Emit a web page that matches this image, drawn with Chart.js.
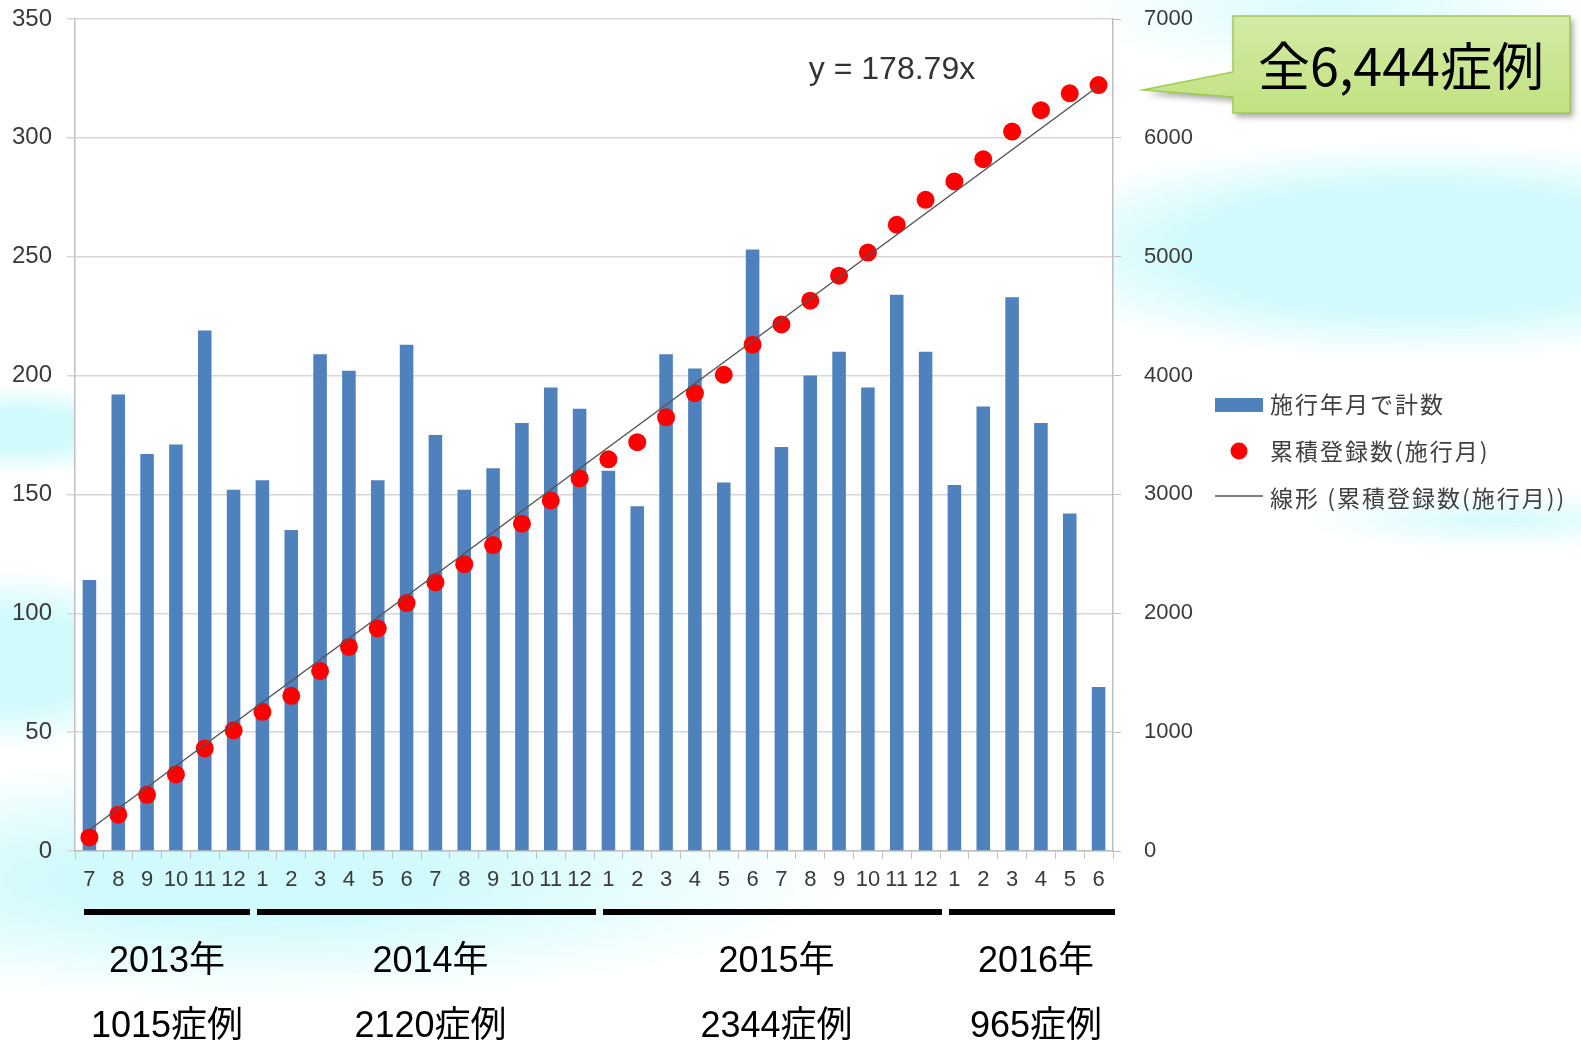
<!DOCTYPE html>
<html>
<head>
<meta charset="utf-8">
<script src="https://cdn.jsdelivr.net/npm/chart.js@4.4.1/dist/chart.umd.min.js"></script>
<style>
  html, body { margin: 0; padding: 0; }
  body {
    width: 1581px; height: 1043px; overflow: hidden;
    background:
      radial-gradient(ellipse 260px 70px at 1330px 8px, rgba(212,250,252,0.9), rgba(212,250,252,0) 100%),
      radial-gradient(ellipse 420px 110px at 1420px 250px, rgba(208,250,252,1) 55%, rgba(208,250,252,0) 100%),
      radial-gradient(ellipse 200px 30px at 1500px 520px, rgba(208,250,252,0.9), rgba(208,250,252,0) 100%),
      radial-gradient(ellipse 140px 45px at 20px 430px, rgba(208,250,252,1) 40%, rgba(208,250,252,0) 100%),
      radial-gradient(ellipse 160px 90px at 10px 660px, rgba(208,250,252,1) 50%, rgba(208,250,252,0) 100%),
      radial-gradient(ellipse 600px 120px at 250px 880px, rgba(208,250,252,1) 30%, rgba(208,250,252,0) 100%),
      #ffffff;
  }
  #chart { position: absolute; left: 0; top: 0; }
</style>
</head>
<body>
<canvas id="chart" width="1581" height="1043"></canvas>
<script>
const months = ['7','8','9','10','11','12',
  '1','2','3','4','5','6','7','8','9','10','11','12',
  '1','2','3','4','5','6','7','8','9','10','11','12',
  '1','2','3','4','5','6'];
const monthlyCounts = [114, 192, 167, 171, 219, 152,
  156, 135, 209, 202, 156, 213, 175, 152, 161, 180, 195, 186,
  160, 145, 209, 203, 155, 253, 170, 200, 210, 195, 234, 210,
  154, 187, 233, 180, 142, 69];
const cumulativeCounts = [114, 306, 473, 644, 863, 1015,
  1171, 1306, 1515, 1717, 1873, 2086, 2261, 2413, 2574, 2754, 2949, 3135,
  3295, 3440, 3649, 3852, 4007, 4260, 4430, 4630, 4840, 5035, 5269, 5479,
  5633, 5820, 6053, 6233, 6375, 6444];
// trend line y = 178.79x, ends at month 1 and month 36
const trendEnds = [178.79, 6436.44];
const yearLabels = ['2013年', '2014年', '2015年', '2016年'];
const yearCases = ['1015症例', '2120症例', '2344症例', '965症例'];
const yearMonths = [6, 12, 12, 6];

const FONT = "'Liberation Sans', Arial, 'Noto Sans CJK JP', sans-serif";
const JFONT = "'Noto Sans CJK JP', 'Liberation Sans', sans-serif";

const trendData = months.map((m, i) => i === 0 ? trendEnds[0] : (i === months.length - 1 ? trendEnds[1] : null));

const extras = {
  id: 'extras',
  beforeDatasetsDraw(chart) {
    const {ctx, chartArea: a} = chart;
    ctx.save();
    ctx.globalCompositeOperation = 'destination-over';
    ctx.fillStyle = '#ffffff';
    ctx.fillRect(a.left, a.top, a.right - a.left, a.bottom - a.top);
    ctx.restore();
  },
  afterDraw(chart) {
    const {ctx} = chart;
    const x = chart.scales.x;
    const half = (x.getPixelForValue(1) - x.getPixelForValue(0)) / 2;
    ctx.save();

    // year bars and labels
    let start = 0;
    yearMonths.forEach((n, k) => {
      const l = x.getPixelForValue(start) - half + 9;
      const r = x.getPixelForValue(start + n - 1) + half + 2;
      ctx.fillStyle = '#000';
      ctx.fillRect(l, 909, r - l, 6);
      const c = (l + r) / 2 + (k === 0 ? 0 : 4);
      ctx.textAlign = 'center';
      ctx.textBaseline = 'middle';
      ctx.font = '36px ' + FONT;
      ctx.fillText(yearLabels[k], c, 962);
      ctx.fillText(yearCases[k], c, 1027);
      start += n;
    });

    // trend equation
    ctx.fillStyle = '#333';
    ctx.font = '32px ' + FONT;
    ctx.textAlign = 'center';
    ctx.textBaseline = 'alphabetic';
    ctx.fillText('y = 178.79x', 892, 79);

    // legend
    ctx.textAlign = 'left';
    ctx.textBaseline = 'middle';
    ctx.font = '23px ' + JFONT;
    ctx.letterSpacing = '2px';
    ctx.fillStyle = '#4f81bd';
    ctx.fillRect(1215, 398, 48, 14);
    ctx.fillStyle = '#ff0000';
    ctx.beginPath(); ctx.arc(1239, 451, 8.5, 0, Math.PI * 2); ctx.fill();
    ctx.strokeStyle = '#555'; ctx.lineWidth = 1.5;
    ctx.beginPath(); ctx.moveTo(1215, 496); ctx.lineTo(1263, 496); ctx.stroke();
    ctx.fillStyle = '#404040';
    ctx.fillText(chart.data.datasets[2].label, 1270, 404);
    ctx.fillText(chart.data.datasets[1].label, 1270, 451);
    ctx.fillText(chart.data.datasets[0].label, 1270, 498);
    ctx.letterSpacing = '0px';

    // callout
    ctx.save();
    ctx.shadowColor = 'rgba(0,0,0,0.35)';
    ctx.shadowBlur = 6; ctx.shadowOffsetX = 3; ctx.shadowOffsetY = 4;
    const g = ctx.createLinearGradient(0, 16, 0, 113);
    g.addColorStop(0, '#d3eba6');
    g.addColorStop(1, '#c2e280');
    ctx.fillStyle = g;
    ctx.beginPath();
    ctx.moveTo(1233, 16); ctx.lineTo(1570, 16); ctx.lineTo(1570, 113); ctx.lineTo(1233, 113);
    ctx.lineTo(1233, 97); ctx.lineTo(1143, 90); ctx.lineTo(1233, 72); ctx.closePath();
    ctx.fill();
    ctx.restore();
    ctx.strokeStyle = '#9fcc4f'; ctx.lineWidth = 1.5;
    ctx.stroke();
    ctx.fillStyle = '#000';
    ctx.font = '52px ' + JFONT;
    ctx.textAlign = 'center';
    ctx.textBaseline = 'middle';
    ctx.fillText('全6,444症例', 1401, 66);
    ctx.restore();
  }
};

new Chart(document.getElementById('chart'), {
  type: 'bar',
  data: {
    labels: months,
    datasets: [{
      type: 'line',
      label: '線形 (累積登録数(施行月))',
      data: trendData,
      yAxisID: 'y2',
      borderColor: '#555',
      borderWidth: 1.5,
      pointRadius: 0,
      spanGaps: true,
      order: 0
    }, {
      type: 'line',
      label: '累積登録数(施行月)',
      data: cumulativeCounts,
      yAxisID: 'y2',
      showLine: false,
      pointRadius: 9,
      pointBackgroundColor: '#ff0000',
      pointBorderColor: '#ff0000',
      pointBorderWidth: 0,
      order: 1
    }, {
      label: '施行年月で計数',
      data: monthlyCounts,
      yAxisID: 'y',
      backgroundColor: '#4f81bd',
      barPercentage: 0.47,
      categoryPercentage: 1,
      order: 2
    }]
  },
  options: {
    responsive: false,
    animation: false,
    devicePixelRatio: 1,
    layout: { padding: { left: 0, right: 368, top: 19, bottom: 142 } },
    plugins: { legend: { display: false }, tooltip: { enabled: false } },
    scales: {
      x: {
        offset: true,
        grid: { drawOnChartArea: false, drawTicks: true, tickLength: 8, color: '#c0c0c0', offset: true },
        border: { color: '#bfbfbf', width: 1.5 },
        ticks: { autoSkip: false, maxRotation: 0, padding: 8, color: '#3a3a3a', font: { family: FONT, size: 22 } },
        afterFit(s) { s.height = 50; s.paddingLeft = 0; s.paddingRight = 0; }
      },
      y: {
        position: 'left',
        min: 0, max: 350,
        ticks: { stepSize: 50, padding: 15, color: '#3a3a3a', font: { family: FONT, size: 24 }, callback: v => String(v) },
        grid: { color: '#d6d6d6', lineWidth: 1.5, tickLength: 8 },
        border: { color: '#bfbfbf', width: 1.5 },
        afterFit(s) { s.width = 75; s.paddingTop = 0; s.paddingBottom = 0; }
      },
      y2: {
        position: 'right',
        min: 0, max: 7000,
        ticks: { stepSize: 1000, padding: 23, color: '#3a3a3a', font: { family: FONT, size: 22 }, callback: v => String(v) },
        grid: { drawOnChartArea: false, tickLength: 8, color: '#bfbfbf' },
        border: { color: '#bfbfbf', width: 1.5 },
        afterFit(s) { s.width = 100; s.paddingTop = 0; s.paddingBottom = 0; }
      }
    }
  },
  plugins: [extras]
});
</script>
</body>
</html>
